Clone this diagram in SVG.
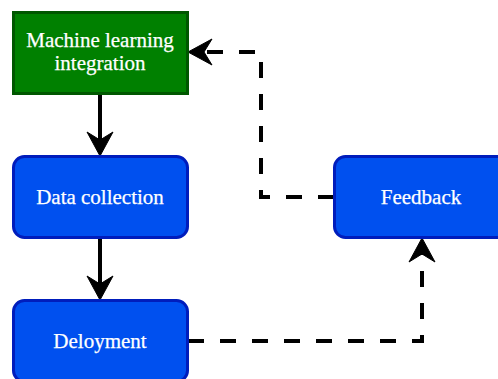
<svg xmlns="http://www.w3.org/2000/svg" width="498" height="379" viewBox="0 0 498 379">
<style>
.box{stroke-width:3}
.green{fill:#008000;stroke:#005700}
.blue{fill:#0050ef;stroke:#001dbc}
.lbl{font-family:"Liberation Serif","DejaVu Serif",serif;font-size:21px;fill:#ffffff;stroke:#ffffff;stroke-width:0.25;text-anchor:middle}
.edge{fill:none;stroke:#000;stroke-width:4}
.dash{stroke-dasharray:16 16}
</style>
<defs>
<marker id="arr" markerUnits="userSpaceOnUse" viewBox="-10 -15 30 30" markerWidth="30" markerHeight="30" refX="0" refY="0" orient="auto">
<path d="M16,0 L-8,-13 L0,0 L-8,13 Z" fill="#000" stroke="#000" stroke-width="1"/>
</marker>
</defs>
<rect width="498" height="379" fill="#fff"/>
<g id="connectors">
<path class="edge" d="M100,94 L100,140" marker-end="url(#arr)"/>
<path class="edge" d="M100,238 L100,284" marker-end="url(#arr)"/>
<path class="edge dash" d="M188,341 L422,341 L422,254" marker-end="url(#arr)"/>
<path class="edge dash" d="M334,197 L261,197 L261,52 L204,52" marker-end="url(#arr)"/>
</g>
<g id="ml">
<rect class="box green" x="13.5" y="12.5" width="174" height="81"/>
<text class="lbl" x="100" y="47">Machine learning</text>
<text class="lbl" x="100" y="70">integration</text>
</g>
<g id="data">
<rect class="box blue" x="13.5" y="156.5" width="174" height="81" rx="11"/>
<text class="lbl" x="100" y="204">Data collection</text>
</g>
<g id="deploy">
<rect class="box blue" x="13.5" y="300.5" width="174" height="81" rx="11"/>
<text class="lbl" x="100" y="348">Deloyment</text>
</g>
<g id="feedback">
<rect class="box blue" x="334.5" y="156.5" width="174" height="81" rx="11"/>
<text class="lbl" x="421" y="204">Feedback</text>
</g>
</svg>
